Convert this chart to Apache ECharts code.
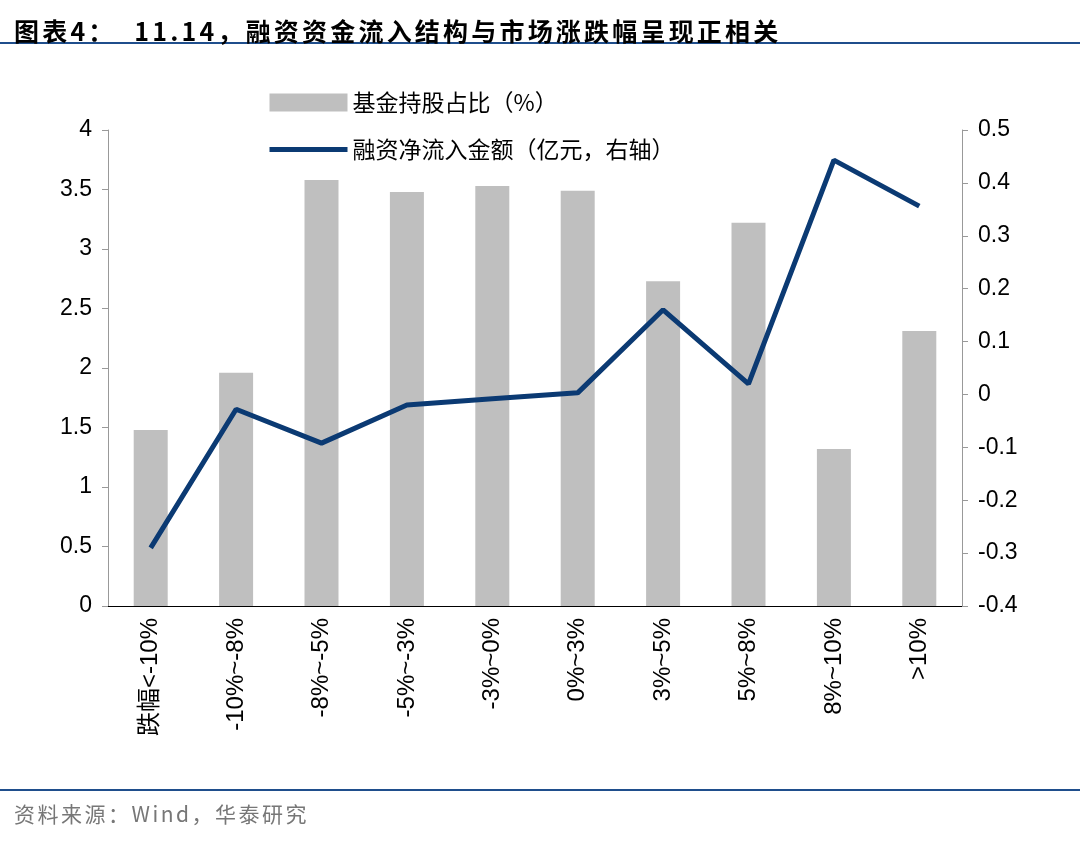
<!DOCTYPE html>
<html><head><meta charset="utf-8">
<script src="https://cdn.jsdelivr.net/npm/echarts@6/dist/echarts.min.js"></script>
<style>body{margin:0;background:#fff;position:relative}#c{width:1080px;height:847px}
#t{position:absolute;left:14px;top:12px;font:bold 25px "Noto Sans CJK SC",Arial,sans-serif;letter-spacing:3.2px;color:#000}
#s{position:absolute;left:14px;top:798px;font:21px "Noto Sans CJK SC",Arial,sans-serif;letter-spacing:2.5px;color:#777}</style></head>
<body><div id="c"></div>
<div id="t">图表4：&nbsp;&nbsp;11.14，融资资金流入结构与市场涨跌幅呈现正相关</div>
<div id="s">资料来源：Wind，华泰研究</div>
<script>
const categories=['跌幅<-10%','-10%~-8%','-8%~-5%','-5%~-3%','-3%~0%','0%~3%','3%~5%','5%~8%','8%~10%','>10%'];
const fundShare=[1.48,1.96,3.58,3.48,3.53,3.49,2.73,3.22,1.32,2.31];
const netInflow=[-0.29,-0.028,-0.092,-0.02,-0.008,0.003,0.16,0.02,0.443,0.356];
const leftTicks=[0,4,0.5], rightTicks=[-0.4,0.5,0.1];
const font='"Noto Sans CJK SC", Arial, sans-serif';
const chart=echarts.init(document.getElementById('c'));
chart.setOption({
 animation:false,
 textStyle:{fontFamily:font},
 graphic:[
  {type:'rect',shape:{x:0,y:42,width:1080,height:2},style:{fill:'#1f4e8c'}},
  {type:'rect',shape:{x:0,y:789,width:1080,height:2},style:{fill:'#1f4e8c'}}
 ],
 legend:{orient:'vertical',left:262,top:86,itemWidth:78,itemHeight:18,itemGap:24,
  textStyle:{fontSize:23,color:'#000',fontFamily:font},
  data:[{name:'基金持股占比（%）',icon:'rect'},
        {name:'融资净流入金额（亿元，右轴）',itemStyle:{opacity:0},lineStyle:{width:5,color:'#0b3a73'}}]},
 grid:{left:108,right:118,top:130,bottom:241},
 xAxis:{type:'category',data:categories,
  axisLine:{lineStyle:{color:'#000'}},axisTick:{show:false},
  axisLabel:{rotate:90,fontSize:24,color:'#000',margin:12,fontFamily:'Arial, "Noto Sans CJK SC"'}},
 yAxis:[
  {type:'value',min:leftTicks[0],max:leftTicks[1],interval:leftTicks[2],splitLine:{show:false},
   axisLine:{show:true,lineStyle:{color:'#999'}},axisTick:{show:true,length:6,lineStyle:{color:'#999'}},
   axisLabel:{fontSize:23,color:'#000',fontFamily:'Arial',margin:16}},
  {type:'value',min:rightTicks[0],max:rightTicks[1],interval:rightTicks[2],splitLine:{show:false},
   axisLine:{show:true,lineStyle:{color:'#999'}},axisTick:{show:true,length:6,lineStyle:{color:'#999'}},
   axisLabel:{fontSize:23,color:'#000',fontFamily:'Arial',margin:16,formatter:v=>Math.round(v*10)/10}}
 ],
 series:[
  {name:'基金持股占比（%）',type:'bar',data:fundShare,barWidth:34,itemStyle:{color:'#bfbfbf'}},
  {name:'融资净流入金额（亿元，右轴）',type:'line',yAxisIndex:1,data:netInflow,symbol:'none',
   lineStyle:{color:'#0b3a73',width:5},itemStyle:{color:'#0b3a73'}}
 ]
});
</script></body></html>
